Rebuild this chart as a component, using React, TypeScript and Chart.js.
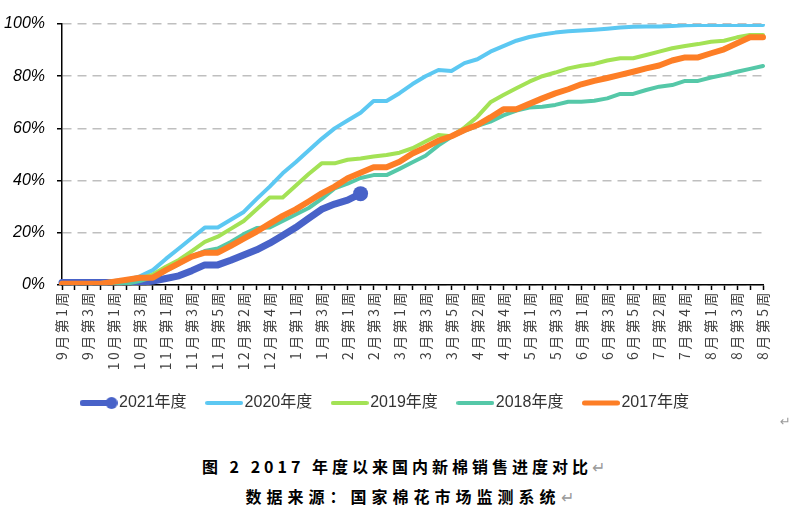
import React, { useEffect, useRef } from 'react';
import Chart from 'chart.js/auto';

// Category axis: weeks of the marketing year (Sept -> Aug)
const months = ['9', '10', '11', '12', '1', '2', '3', '4', '5', '6', '7', '8'];
const weeksPerMonth = [4, 4, 5, 5, 4, 4, 5, 5, 4, 5, 5, 5];
const categories: string[] = [];
months.forEach((m, i) => {
  for (let w = 1; w <= weeksPerMonth[i]; w++) categories.push(`${m}月第${w}周`);
});

const seriesNames = ['2021年度', '2020年度', '2019年度', '2018年度', '2017年度'];

const s2021 = [1, 1, 1, 1, 1, 1, 1, 1.5, 2.5, 3.5, 5.5, 7.7, 7.7, 9.5, 11.5, 13.5, 16, 19, 22, 25.5, 29, 31, 32.5, 35];
const s2020 = [
  0.8, 0.8, 0.8, 0.8, 1.5, 2, 3.3, 5.7, 10, 14,
  18, 22, 22, 25, 28, 33, 37.7, 42.8, 47, 51.5,
  56, 60, 63, 66, 70.5, 70.5, 73.5, 77, 80, 82.4,
  82, 85, 86.5, 89.4, 91.5, 93.6, 95, 96, 96.7, 97.2,
  97.5, 97.8, 98.2, 98.7, 98.9, 99, 99, 99.2, 99.5, 99.6,
  99.6, 99.6, 99.6, 99.6, 99.6,
];
const s2019 = [
  0, 0, 0, 0, 0, 1, 2.5, 4, 7, 9.6,
  13, 16.5, 18.5, 21.5, 24.5, 29, 33.5, 33.5, 38, 42.5,
  46.6, 46.6, 48, 48.5, 49.2, 49.8, 50.7, 52.4, 55, 57.5,
  57, 60.3, 64.5, 70, 72.8, 75.4, 77.9, 80, 81.4, 83,
  84, 84.7, 86, 86.9, 86.9, 88.1, 89.4, 90.7, 91.6, 92.3,
  93.2, 93.6, 94.9, 95.8, 95.8,
];
const s2018 = [
  0, 0, 0, 0, 0, 0.5, 1.5, 3, 5.5, 8,
  11, 13, 14, 16.5, 19.5, 21.8, 22, 24.5, 27, 29.5,
  33, 37, 38.8, 41, 42.1, 42.1, 44.5, 47, 49.5, 53.5,
  56.8, 59, 61, 62.6, 65, 66.8, 68, 68.3, 69, 70.2,
  70.2, 70.6, 71.5, 73.2, 73.2, 74.7, 76, 76.6, 78.2, 78.2,
  79.5, 80.5, 81.7, 82.8, 83.9,
];
const s2017 = [
  0.5, 0.5, 0.5, 0.5, 1.3, 2, 2.8, 2.8, 5.7, 8.3,
  10.9, 12.4, 12.4, 15, 17.8, 20.5, 23.5, 26.5, 29, 32,
  35.1, 37.7, 40.9, 43, 45.1, 45.1, 47.2, 50.4, 52.7, 55.3,
  57, 59.4, 61.3, 64.2, 67.3, 67.3, 69.4, 71.5, 73.4, 75,
  76.9, 78.2, 79.3, 80.5, 81.7, 83, 84.1, 86, 87.2, 87.2,
  88.8, 90.3, 92.6, 94.9, 94.9,
];
const seriesValues = [s2021, s2020, s2019, s2018, s2017];

const yMin = 0;
const yMax = 100;
const yStep = 20;

const colors = ['#4862C8', '#5CC8F2', '#A3E255', '#55C8A8', '#FD7E26'];
const lineWidths = [7, 4, 4, 4, 6];
const legendLineWidths = [6, 4, 4, 4, 5];
const drawOrder = [5, 4, 3, 2, 1];

function makeLegendImage(color: string, lw: number, marker: boolean) {
  const c = document.createElement('canvas');
  c.width = 38;
  c.height = 14;
  const g = c.getContext('2d')!;
  g.strokeStyle = color;
  g.lineWidth = lw;
  g.lineCap = 'round';
  g.beginPath();
  g.moveTo(lw / 2, 7);
  g.lineTo(marker ? 32 : 38 - lw / 2, 7);
  g.stroke();
  if (marker) {
    g.fillStyle = color;
    g.beginPath();
    g.arc(32, 7, 6, 0, Math.PI * 2);
    g.fill();
  }
  return c;
}

// Adds spacing between the characters of the rotated category labels
const spacedXLabels = {
  id: 'spacedXLabels',
  beforeDraw(chart: any) {
    const s = chart.scales.x;
    if (!s || s.__spaced) return;
    const orig = s.drawLabels.bind(s);
    s.drawLabels = (area: any) => {
      const ctx = chart.ctx as any;
      const prev = ctx.letterSpacing;
      ctx.letterSpacing = '2.5px';
      orig(area);
      ctx.letterSpacing = prev || '0px';
    };
    s.__spaced = true;
  },
};

// Nudges the legend row slightly to the right, as in the source layout
const legendShift = {
  id: 'legendShift',
  afterLayout(chart: any) {
    if (chart.legend) chart.legend.left += 12;
  },
};

export default function App() {
  const ref = useRef<HTMLCanvasElement | null>(null);

  useEffect(() => {
    if (!ref.current) return;
    const images = seriesNames.map((_, i) => makeLegendImage(colors[i], legendLineWidths[i], i === 0));
    const chart = new Chart(ref.current, {
      type: 'line',
      plugins: [spacedXLabels, legendShift],
      data: {
        labels: categories,
        datasets: seriesNames.map((name, i) => ({
          label: name,
          data: seriesValues[i],
          borderColor: colors[i],
          backgroundColor: colors[i],
          borderWidth: lineWidths[i],
          tension: 0,
          fill: false,
          borderJoinStyle: 'round' as const,
          borderCapStyle: 'round' as const,
          order: drawOrder[i],
          pointRadius: i === 0 ? (ctx: any) => (ctx.dataIndex === seriesValues[0].length - 1 ? 7.5 : 0) : 0,
          pointBorderWidth: 0,
          pointBackgroundColor: colors[i],
          pointHoverRadius: 0,
        })),
      },
      options: {
        responsive: false,
        animation: false,
        events: [],
        layout: { padding: { left: 0, right: 28, top: 24, bottom: 0 } },
        plugins: {
          tooltip: { enabled: false },
          title: { display: false },
          legend: {
            display: true,
            position: 'bottom',
            labels: {
              usePointStyle: true,
              pointStyleWidth: 25,
              padding: 25,
              color: '#333333',
              font: { family: '"Liberation Sans", "Noto Sans CJK SC", sans-serif', size: 16 },
              sort: (a: any, b: any) => a.datasetIndex - b.datasetIndex,
              generateLabels: (chart: any) => {
                const items = Chart.defaults.plugins.legend.labels.generateLabels(chart);
                return items.map((it: any) => ({ ...it, pointStyle: images[it.datasetIndex] }));
              },
            },
          },
        },
        scales: {
          x: {
            type: 'category',
            offset: false,
            afterFit: (scale: any) => {
              scale.height = 85;
            },
            grid: {
              display: true,
              drawOnChartArea: false,
              drawTicks: true,
              tickLength: 5,
              tickColor: '#000000',
              tickWidth: 1.5,
              offset: false,
            },
            border: { display: true, color: '#000000', width: 1.5 },
            ticks: {
              autoSkip: false,
              maxRotation: 90,
              minRotation: 90,
              padding: 0,
              color: '#404040',
              font: { family: '"Noto Sans CJK SC", sans-serif', size: 14 },
              callback: (_v: any, idx: number) => (idx % 2 === 0 ? categories[idx] : ''),
            },
          },
          y: {
            min: yMin,
            max: yMax,
            afterFit: (scale: any) => {
              scale.width = 62;
            },
            grid: {
              color: '#BFBFBF',
              lineWidth: 1.5,
              drawTicks: true,
              tickLength: 5,
              tickColor: '#000000',
              tickWidth: 1.5,
              tickBorderDash: [],
            },
            border: { display: true, color: '#000000', width: 1.5, dash: [9, 6] },
            ticks: {
              stepSize: yStep,
              padding: 12,
              color: '#000000',
              font: { family: '"Liberation Sans", sans-serif', size: 16, style: 'italic' },
              callback: (v: any) => `${v}%`,
            },
          },
        },
      },
    });
    return () => chart.destroy();
  }, []);

  const captionStyle: React.CSSProperties = {
    position: 'absolute',
    width: 791,
    textAlign: 'center',
    fontFamily: '"Noto Sans CJK SC", sans-serif',
    fontWeight: 700,
    fontSize: 16,
    lineHeight: '20px',
    color: '#000',
    whiteSpace: 'nowrap',
  };
  const markStyle: React.CSSProperties = { color: '#9a9a9a', fontWeight: 400, letterSpacing: 0 };

  return (
    <div style={{ position: 'absolute', left: 0, top: 0, width: 791, height: 513, background: '#fff', overflow: 'hidden' }}>
      <canvas ref={ref} width={791} height={421} style={{ display: 'block' }} />
      <div style={{ position: 'absolute', left: 780, top: 414, fontSize: 13, color: '#9a9a9a', fontFamily: '"DejaVu Sans", sans-serif' }}>↵</div>
      <div style={{ ...captionStyle, left: 8, top: 456, letterSpacing: '4px' }}>
        图 2 2017 年度以来国内新棉销售进度对比<span style={markStyle}>↵</span>
      </div>
      <div style={{ ...captionStyle, left: 14, top: 486, letterSpacing: '5px' }}>
        数据来源：国家棉花市场监测系统<span style={markStyle}>↵</span>
      </div>
    </div>
  );
}
